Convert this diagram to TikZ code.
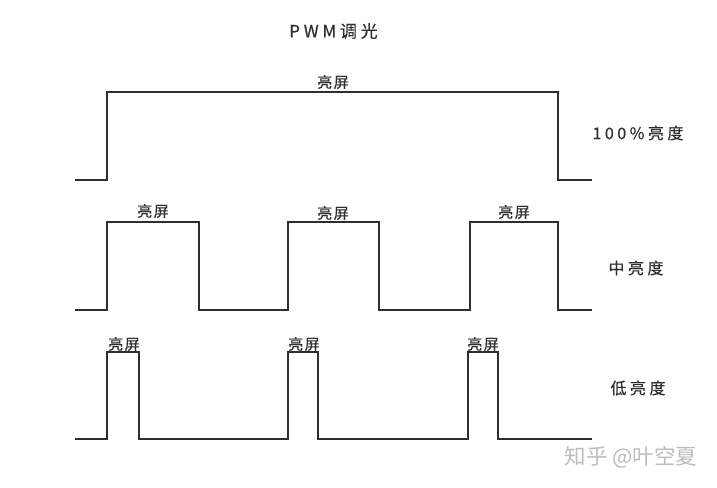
\documentclass[tikz,border=0pt]{standalone}
\usepackage{fontspec}
\setmainfont{Noto Sans CJK SC}
\newfontfamily\spaced[LetterSpace=22,FakeBold=0.4]{Noto Sans CJK SC}
\newfontfamily\tight[LetterSpace=10,FakeBold=0.3]{Noto Sans CJK SC}
\definecolor{ink}{HTML}{2E2E2E}
\definecolor{mark}{HTML}{BDBDBD}
\tikzset{
  wave/.style={draw=ink,line width=2.1pt,line join=miter},
  lvl/.style={text=ink,font=\spaced\fontsize{16}{18}\selectfont,inner sep=0pt,anchor=center},
  on/.style={text=ink,font=\tight\fontsize{15}{17}\selectfont,inner sep=0pt,anchor=center},
}
\begin{document}
\begin{tikzpicture}[x=1pt,y=-1pt]
\useasboundingbox (0,0) rectangle (717,487);
\fill[white] (0,0) rectangle (717,487);
\node[lvl,font=\spaced\fontsize{17}{19}\selectfont] (title) at (333.5,31) {PWM调光};
\node[lvl] (l1) at (638,133) {100\%亮度};
\node[lvl] (l2) at (636,268) {中亮度};
\node[lvl] (l3) at (638,388) {低亮度};
\draw[wave] (75,180) -- (107,180) -- (107,92) -- (558,92) -- (558,180) -- (592,180);
\draw[wave] (75,310) -- (107,310) -- (107,222) -- (199,222) -- (199,310) -- (288,310) -- (288,222) -- (379,222) -- (379,310) -- (470,310) -- (470,222) -- (558,222) -- (558,310) -- (592,310);
\draw[wave] (75,439) -- (107,439) -- (107,352) -- (139,352) -- (139,439) -- (288,439) -- (288,352) -- (318,352) -- (318,439) -- (468,439) -- (468,352) -- (498,352) -- (498,439) -- (592,439);
\node[on] (a) at (333,82) {亮屏};
\node[on] (b1) at (153,211) {亮屏};
\node[on] (b2) at (333,213) {亮屏};
\node[on] (b3) at (514,212) {亮屏};
\node[on] (c1) at (124,344) {亮屏};
\node[on] (c2) at (304,344) {亮屏};
\node[on] (c3) at (483,344) {亮屏};
\node[text=mark,font=\fontsize{21.5}{24}\selectfont,inner sep=0pt] (wm) at (631,457) {知乎 @叶空夏};
\end{tikzpicture}
\end{document}
